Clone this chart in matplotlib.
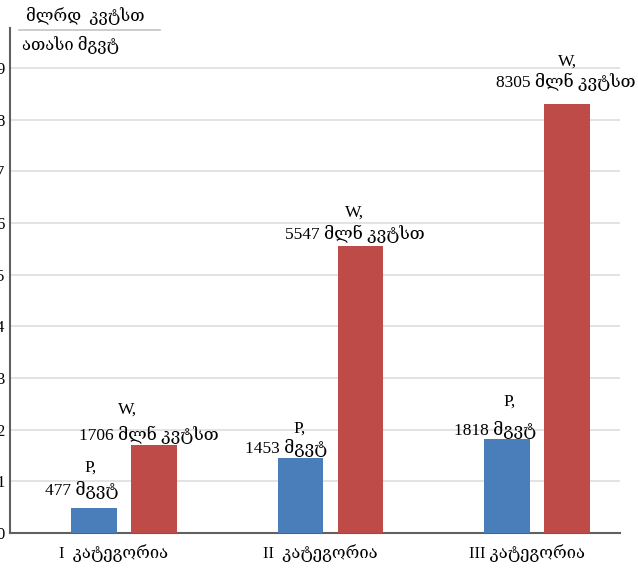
import numpy as np
import matplotlib.pyplot as plt

plt.rcParams['font.family'] = ['Liberation Serif', 'DejaVu Serif', 'DejaVu Sans']

# categories and values (P in thousand MW, W in billion kWh)
categories = ["I  კატეგორია", "II  კატეგორია", "III კატეგორია"]
p_mw = [477, 1453, 1818]
w_mkwh = [1706, 5547, 8305]
y_ticks = [0, 1, 2, 3, 4, 5, 6, 7, 8, 9]

blue = "#4a7ebb"
red = "#be4b48"

fig = plt.figure(figsize=(6.38, 5.68), dpi=100)
ax = fig.add_axes([0.0157, 0.0616, 0.956, 0.889])

x = np.arange(len(categories))
width = 0.222
gap = 0.068
p_vals = np.array(p_mw) / 1000
w_vals = np.array(w_mkwh) / 1000
p_bars = ax.bar(x - (width + gap) / 2, p_vals, width, color=blue, zorder=3)
w_bars = ax.bar(x + (width + gap) / 2, w_vals, width, color=red, zorder=3)

ax.set_xlim(-0.55, 2.40)
ax.set_ylim(0, 9.77)
ax.set_yticks(y_ticks)
ax.set_yticklabels([str(t) for t in y_ticks], fontsize=12)
ax.tick_params(axis='y', length=0, pad=4)
ax.set_xticks(x - 0.05)
ax.set_xticklabels(categories, fontsize=12)
ax.tick_params(axis='x', length=0, pad=8)

ax.grid(axis='y', color='#dedede', linewidth=1.2, zorder=0)
for s in ['top', 'right']:
    ax.spines[s].set_visible(False)
for s in ['left', 'bottom']:
    ax.spines[s].set_color('#606060')
    ax.spines[s].set_linewidth(1.5)

# value labels: (head offset, value-line offset) in pixels from bar top
p_offsets = [((-3, 41), (-12, 18)), ((-1, 29), (-14, 10)), ((2, 37), (-12, 9))]
w_offsets = [((-26, 35), (-5, 10)), ((-6, 34), (-6, 12)), ((0, 42), (-1, 22))]

for bars, vals, head, unit, offs in [
    (p_bars, p_mw, "P,", "მგვტ", p_offsets),
    (w_bars, w_mkwh, "W,", "მლნ კვტსთ", w_offsets),
]:
    for b, v, (o1, o2) in zip(bars, vals, offs):
        cx = b.get_x() + b.get_width() / 2
        top = b.get_height()
        ax.annotate(head, (cx, top), xytext=o1, textcoords='offset pixels',
                    ha='center', va='center', fontsize=12.5)
        ax.annotate(f"{v} {unit}", (cx, top), xytext=o2, textcoords='offset pixels',
                    ha='center', va='center', fontsize=12.5)

# unit caption above the y axis
fig.text(0.04, 0.972, "მლრდ  კვტსთ", fontsize=12, va='center')
fig.add_artist(plt.Line2D([0.03, 0.25], [0.947, 0.947], color='#c8c8c8', linewidth=1.3))
fig.text(0.035, 0.921, "ათასი მგვტ", fontsize=12, va='center')

fig.savefig("out.png", dpi=100)
